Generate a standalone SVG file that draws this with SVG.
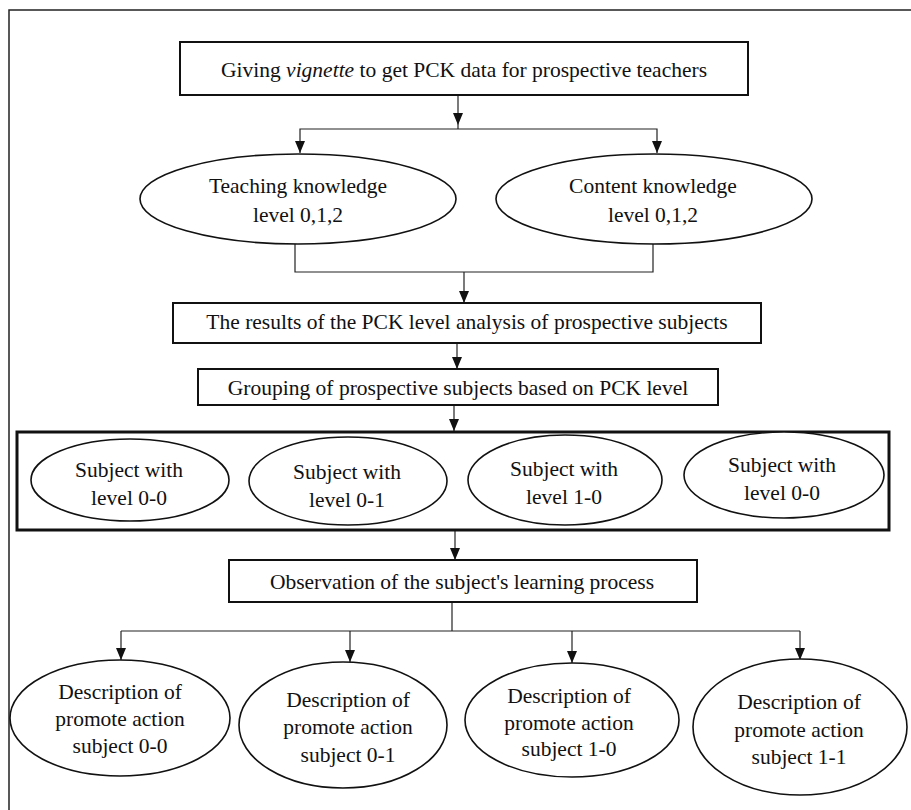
<svg xmlns="http://www.w3.org/2000/svg" width="911" height="810" viewBox="0 0 911 810">
<style>
text{font-family:"Liberation Serif","Times New Roman",serif;font-size:21.5px;fill:#111;text-anchor:middle}
.box{fill:#fff;stroke:#111;stroke-width:2}
.ell{fill:#fff;stroke:#111;stroke-width:1.6}
.con{fill:none;stroke:#222;stroke-width:1.2}
.frame{fill:none;stroke:#222;stroke-width:1.5}
</style>
<defs>
<marker id="ah" markerUnits="userSpaceOnUse" markerWidth="12" markerHeight="10" viewBox="0 0 12 10" refX="12" refY="5" orient="auto">
<path d="M0,0 L12,5 L0,10 z" fill="#111"/>
</marker>
</defs>
<rect width="911" height="810" fill="#fff"/>
<path class="frame" d="M9,810 V10 H911"/>

<g id="connectors">
<path class="con" d="M458,95 V125 V129" marker-mid="url(#ah)"/>
<path class="con" d="M458,129 H300 V153" marker-end="url(#ah)"/>
<path class="con" d="M458,129 H657 V153" marker-end="url(#ah)"/>
<path class="con" d="M295,243 V272 H653 V243"/>
<path class="con" d="M464,272 V303" marker-end="url(#ah)"/>
<path class="con" d="M457,343 V369" marker-end="url(#ah)"/>
<path class="con" d="M454,405 V431" marker-end="url(#ah)"/>
<path class="con" d="M455,531 V560" marker-end="url(#ah)"/>
<path class="con" d="M452,602 V631"/>
<path class="con" d="M121,631 H800"/>
<path class="con" d="M121,631 V660" marker-end="url(#ah)"/>
<path class="con" d="M350,631 V662" marker-end="url(#ah)"/>
<path class="con" d="M572,631 V663" marker-end="url(#ah)"/>
<path class="con" d="M800,631 V660" marker-end="url(#ah)"/>
</g>

<g id="n-vignette">
<rect class="box" x="180" y="42" width="568" height="53"/>
<text x="464" y="77">Giving <tspan font-style="italic">vignette</tspan> to get PCK data for prospective teachers</text>
</g>

<g id="n-teaching">
<ellipse class="ell" cx="298" cy="199" rx="158" ry="45"/>
<text x="298" y="193">Teaching knowledge</text>
<text x="298" y="222">level 0,1,2</text>
</g>

<g id="n-content">
<ellipse class="ell" cx="654" cy="199" rx="158" ry="45"/>
<text x="653" y="193">Content knowledge</text>
<text x="653" y="222">level 0,1,2</text>
</g>

<g id="n-results">
<rect class="box" x="173" y="303" width="588" height="40"/>
<text x="467" y="329">The results of the PCK level analysis of prospective subjects</text>
</g>

<g id="n-grouping">
<rect class="box" x="198" y="369" width="520" height="36"/>
<text x="458" y="395">Grouping of prospective subjects based on PCK level</text>
</g>

<g id="n-group-frame">
<rect x="17" y="432" width="872" height="98" fill="none" stroke="#111" stroke-width="3"/>
</g>

<g id="n-s00">
<ellipse class="ell" cx="130" cy="480" rx="99" ry="41"/>
<text x="129" y="477">Subject with</text>
<text x="129" y="505">level 0-0</text>
</g>
<g id="n-s01">
<ellipse class="ell" cx="348" cy="481" rx="99" ry="44"/>
<text x="347" y="479">Subject with</text>
<text x="347" y="507">level 0-1</text>
</g>
<g id="n-s10">
<ellipse class="ell" cx="565" cy="480" rx="97" ry="45"/>
<text x="564" y="476">Subject with</text>
<text x="564" y="504">level 1-0</text>
</g>
<g id="n-s00b">
<ellipse class="ell" cx="784" cy="475" rx="100" ry="43"/>
<text x="782" y="472">Subject with</text>
<text x="782" y="500">level 0-0</text>
</g>

<g id="n-observation">
<rect class="box" x="229" y="560" width="468" height="42"/>
<text x="462" y="589">Observation of the subject's learning process</text>
</g>

<g id="n-d00">
<ellipse class="ell" cx="120" cy="718" rx="110" ry="58"/>
<text x="120" y="699">Description of</text>
<text x="120" y="726">promote action</text>
<text x="120" y="753">subject 0-0</text>
</g>
<g id="n-d01">
<ellipse class="ell" cx="343" cy="725" rx="104" ry="63"/>
<text x="348" y="707">Description of</text>
<text x="348" y="734">promote action</text>
<text x="348" y="762">subject 0-1</text>
</g>
<g id="n-d10">
<ellipse class="ell" cx="572" cy="720" rx="107" ry="57"/>
<text x="569" y="703">Description of</text>
<text x="569" y="730">promote action</text>
<text x="569" y="756">subject 1-0</text>
</g>
<g id="n-d11">
<ellipse class="ell" cx="800" cy="727" rx="107" ry="68"/>
<text x="799" y="709">Description of</text>
<text x="799" y="737">promote action</text>
<text x="799" y="764">subject 1-1</text>
</g>
</svg>
